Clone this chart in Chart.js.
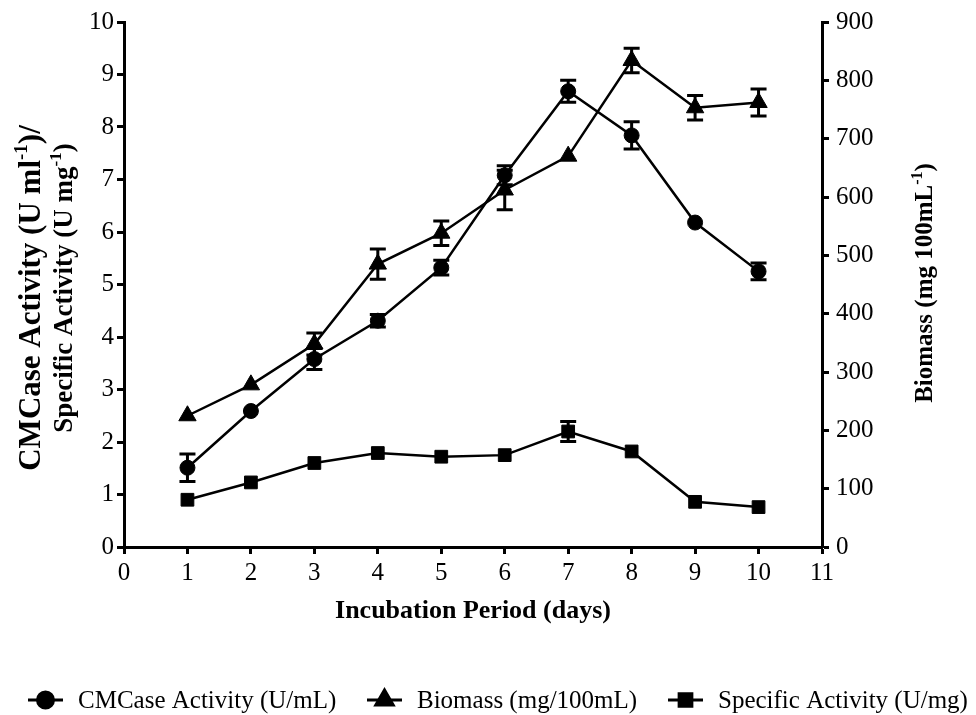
<!DOCTYPE html>
<html lang="en">
<head>
<meta charset="UTF-8">
<title>CMCase activity, biomass and specific activity</title>
<script src="https://cdn.jsdelivr.net/npm/chart.js"></script>
<style>
  body { margin: 0; background: #fff; }
</style>
</head>
<body>
<canvas id="myChart" width="976" height="715"></canvas>
<script>
// data
const days = [1, 2, 3, 4, 5, 6, 7, 8, 9, 10];
const cmcase = [1.51, 2.59, 3.58, 4.31, 5.32, 7.08, 8.68, 7.84, 6.18, 5.25];
const cmcaseErr = [0.26, 0, 0.2, 0.12, 0.14, 0.18, 0.21, 0.26, 0, 0.16];
const biomass = [225, 278, 348, 485, 538, 612, 670, 834, 753, 762];
const biomassErr = [0, 0, 19, 26, 21, 34, 0, 21, 21, 23];
const specific = [0.9, 1.23, 1.6, 1.79, 1.72, 1.75, 2.2, 1.82, 0.86, 0.76];
const specificErr = [0, 0, 0, 0, 0, 0, 0.19, 0, 0, 0];
const legendLabels = ["CMCase Activity (U/mL)", "Biomass (mg/100mL)", "Specific Activity (U/mg)"];

const FONT = "'Liberation Serif', 'Times New Roman', serif";

function pts(ys) {
  return days.map((d, i) => ({ x: d, y: ys[i] }));
}

// error bars, drawn with the chart's own scales
const errorBars = {
  id: 'errorBars',
  afterDatasetsDraw(chart) {
    const ctx = chart.ctx;
    const xs = chart.scales.x;
    chart.data.datasets.forEach(ds => {
      const ys = chart.scales[ds.yAxisID];
      ctx.save();
      ctx.strokeStyle = '#000';
      ctx.lineWidth = 3;
      ds.data.forEach((p, i) => {
        const e = ds.err[i];
        if (!e) return;
        const px = xs.getPixelForValue(p.x);
        const top = ys.getPixelForValue(p.y + e);
        const bot = ys.getPixelForValue(p.y - e);
        ctx.beginPath();
        ctx.moveTo(px, top); ctx.lineTo(px, bot);
        ctx.moveTo(px - 8, top); ctx.lineTo(px + 8, top);
        ctx.moveTo(px - 8, bot); ctx.lineTo(px + 8, bot);
        ctx.stroke();
      });
      ctx.restore();
    });
  }
};

// bold text with a superscript piece, centred on x=0, baseline at y=0
function richText(ctx, parts, size) {
  const big = 'bold ' + size + 'px ' + FONT;
  const small = 'bold ' + Math.round(size * 0.62) + 'px ' + FONT;
  let total = 0;
  parts.forEach(p => { ctx.font = p[1] ? small : big; total += ctx.measureText(p[0]).width; });
  let x = -total / 2;
  ctx.textBaseline = 'alphabetic';
  ctx.textAlign = 'left';
  parts.forEach(p => {
    ctx.font = p[1] ? small : big;
    ctx.fillText(p[0], x, p[1] ? -size * 0.42 : 0);
    x += ctx.measureText(p[0]).width;
  });
}

function rotatedTitle(ctx, parts, size, bx, cy) {
  ctx.save();
  ctx.translate(bx, cy);
  ctx.rotate(-Math.PI / 2);
  richText(ctx, parts, size);
  ctx.restore();
}

const titlesAndLegend = {
  id: 'titlesAndLegend',
  afterDraw(chart) {
    const ctx = chart.ctx;
    const a = chart.chartArea;
    ctx.save();
    ctx.fillStyle = '#000';

    // x title
    ctx.font = 'bold 26px ' + FONT;
    ctx.textAlign = 'center';
    ctx.textBaseline = 'alphabetic';
    ctx.fillText('Incubation Period (days)', (a.left + a.right) / 2, 618);

    // left title (two lines) and right title
    rotatedTitle(ctx, [['CMCase Activity (U ml', false], ['-1', true], [')/', false]], 31, 40, 298);
    rotatedTitle(ctx, [['Specific Activity (U mg', false], ['-1', true], [')', false]], 27, 72, 288);
    rotatedTitle(ctx, [['Biomass (mg 100mL', false], ['-1', true], [')', false]], 25, 932, 283);

    // legend: line with marker, then label
    const ly = 700;
    const textX = [78, 417, 718];
    const styles = ['circle', 'triangle', 'rect'];
    const radii = { circle: 8, triangle: 10, rect: 9 };
    styles.forEach((st, i) => {
      const x0 = textX[i] - 50;
      ctx.strokeStyle = '#000';
      ctx.lineWidth = 3;
      ctx.beginPath();
      ctx.moveTo(x0, ly); ctx.lineTo(x0 + 35, ly);
      ctx.stroke();
      Chart.helpers.drawPoint(ctx, { pointStyle: st, radius: radii[st], borderWidth: 1 }, x0 + 17.5, ly);
      ctx.fillStyle = '#000';
      ctx.fill();
      ctx.font = '25px ' + FONT;
      ctx.textAlign = 'left';
      ctx.textBaseline = 'alphabetic';
      ctx.fillText(legendLabels[i], textX[i], 708);
    });
    ctx.restore();
  }
};

function lineSet(label, ys, err, axis, style, r) {
  return {
    label: label,
    data: pts(ys),
    err: err,
    yAxisID: axis,
    borderColor: '#000',
    backgroundColor: '#000',
    borderWidth: 2.5,
    pointStyle: style,
    pointRadius: r,
    pointBorderWidth: 1,
    pointBackgroundColor: '#000',
    tension: 0
  };
}

function axisCommon(pad) {
  return {
    border: { display: true, color: '#000', width: 3 },
    grid: { drawOnChartArea: false, drawTicks: true, tickLength: 7, tickWidth: 3, tickColor: '#000', color: '#000' },
    ticks: { color: '#000', font: { family: FONT, size: 25 }, padding: pad }
  };
}

const xAxis = axisCommon(4);
Object.assign(xAxis, { type: 'linear', min: 0, max: 11, position: 'bottom' });
xAxis.ticks.stepSize = 1;
xAxis.afterFit = s => { s.height = 168; };

const yLeft = axisCommon(3);
Object.assign(yLeft, { type: 'linear', min: 0, max: 10, position: 'left' });
yLeft.ticks.stepSize = 1;
yLeft.afterFit = s => { s.width = 124; };

const yRight = axisCommon(7);
Object.assign(yRight, { type: 'linear', min: 0, max: 900, position: 'right' });
yRight.ticks.stepSize = 100;
yRight.afterFit = s => { s.width = 154; };

new Chart(document.getElementById('myChart').getContext('2d'), {
  type: 'line',
  data: {
    datasets: [
      lineSet(legendLabels[0], cmcase, cmcaseErr, 'y', 'circle', 7.5),
      lineSet(legendLabels[1], biomass, biomassErr, 'y1', 'triangle', 10),
      lineSet(legendLabels[2], specific, specificErr, 'y', 'rect', 9)
    ]
  },
  options: {
    responsive: false,
    animation: false,
    layout: { padding: { top: 20, left: 0, right: 0, bottom: 0 } },
    plugins: { legend: { display: false }, tooltip: { enabled: false } },
    scales: { x: xAxis, y: yLeft, y1: yRight }
  },
  plugins: [errorBars, titlesAndLegend]
});
</script>
</body>
</html>
